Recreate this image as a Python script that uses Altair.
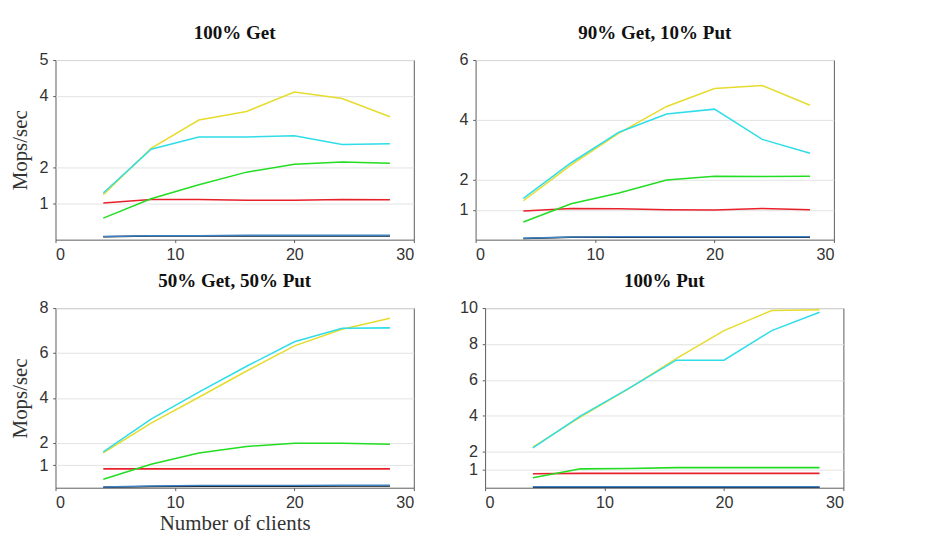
import altair as alt
import pandas as pd

clients = [4, 8, 12, 16, 20, 24, 28]
systems = ["Redis", "Memcached", "Herd", "HydraDB", "Pilaf", "FaRM"]
titles = ["100% Get", "90% Get, 10% Put", "50% Get, 50% Put", "100% Put"]

# 100% Get
g100_redis = [0.08, 0.10, 0.10, 0.10, 0.10, 0.10, 0.10]
g100_memcached = [0.09, 0.11, 0.11, 0.12, 0.12, 0.12, 0.12]
g100_herd = [1.02, 1.12, 1.12, 1.10, 1.10, 1.12, 1.11]
g100_hydradb = [1.25, 2.54, 3.33, 3.57, 4.11, 3.93, 3.42]
g100_pilaf = [0.60, 1.14, 1.53, 1.88, 2.10, 2.16, 2.13]
g100_farm = [1.30, 2.52, 2.86, 2.86, 2.89, 2.65, 2.67]

# 90% Get, 10% Put
g90_redis = [0.04, 0.08, 0.08, 0.08, 0.08, 0.08, 0.08]
g90_memcached = [0.05, 0.09, 0.10, 0.10, 0.10, 0.10, 0.10]
g90_herd = [0.96, 1.04, 1.03, 1.00, 0.99, 1.04, 1.00]
g90_hydradb = [1.30, 2.50, 3.56, 4.45, 5.05, 5.15, 4.49]
g90_pilaf = [0.59, 1.20, 1.56, 1.99, 2.12, 2.11, 2.12]
g90_farm = [1.38, 2.57, 3.59, 4.20, 4.36, 3.35, 2.89]

# 50% Get, 50% Put
g50_redis = [0.02, 0.06, 0.07, 0.07, 0.07, 0.08, 0.08]
g50_memcached = [0.03, 0.08, 0.10, 0.10, 0.10, 0.11, 0.11]
g50_herd = [0.84, 0.84, 0.84, 0.84, 0.84, 0.84, 0.84]
g50_hydradb = [1.55, 2.88, 4.03, 5.20, 6.32, 7.06, 7.55]
g50_pilaf = [0.38, 1.05, 1.55, 1.84, 1.98, 1.98, 1.94]
g50_farm = [1.60, 3.06, 4.26, 5.41, 6.50, 7.10, 7.12]

# 100% Put
p100_redis = [0.03, 0.03, 0.03, 0.03, 0.03, 0.03, 0.03]
p100_memcached = [0.05, 0.05, 0.05, 0.05, 0.05, 0.05, 0.05]
p100_herd = [0.78, 0.80, 0.80, 0.80, 0.80, 0.80, 0.80]
p100_hydradb = [2.26, 3.95, 5.50, 7.19, 8.75, 9.87, 9.91]
p100_pilaf = [0.55, 1.05, 1.07, 1.12, 1.12, 1.12, 1.12]
p100_farm = [2.22, 4.00, 5.52, 7.10, 7.10, 8.75, 9.77]

y_ticks = [[1, 2, 4, 5], [1, 2, 4, 6], [1, 2, 4, 6, 8], [1, 2, 4, 6, 8, 10]]
y_max = [5, 6, 8, 10]

panels = [
    [g100_redis, g100_memcached, g100_herd, g100_hydradb, g100_pilaf, g100_farm],
    [g90_redis, g90_memcached, g90_herd, g90_hydradb, g90_pilaf, g90_farm],
    [g50_redis, g50_memcached, g50_herd, g50_hydradb, g50_pilaf, g50_farm],
    [p100_redis, p100_memcached, p100_herd, p100_hydradb, p100_pilaf, p100_farm],
]

colors = ["#111111", "#3f82c4", "#e8202a", "#e6dc2e", "#22dd22", "#2fdde8"]

W, H = 377, 189
SERIF = "Liberation Serif"
SANS = "Liberation Sans"

color_scale = alt.Scale(domain=systems, range=colors)
legend = alt.Legend(
    orient="none", legendX=359, legendY=502, direction="horizontal",
    title=None, symbolType="stroke", symbolSize=1024, symbolStrokeWidth=2,
    labelFont=SERIF, labelFontSize=14, labelColor="#111111",
    labelOffset=8, columnPadding=8, padding=0,
)


def panel(i):
    rows = []
    for name, vals in zip(systems, panels[i]):
        for c, v in zip(clients, vals):
            rows.append({"clients": c, "mops": v, "system": name})
    df = pd.DataFrame(rows)
    return alt.Chart(df).mark_line(strokeWidth=1.6).encode(
        x=alt.X("clients:Q",
                scale=alt.Scale(domain=[0, 30], nice=False, zero=False),
                axis=alt.Axis(values=[0, 10, 20, 30], grid=False,
                              title="Number of clients" if i == 2 else None)),
        y=alt.Y("mops:Q",
                scale=alt.Scale(domain=[0, y_max[i]], nice=False),
                axis=alt.Axis(values=y_ticks[i], grid=True,
                              title="Mops/sec" if i % 2 == 0 else None)),
        color=alt.Color("system:N", scale=color_scale, legend=legend),
    ).properties(width=W, height=H, title=titles[i])


top = alt.hconcat(panel(0), panel(1), spacing=46)
bottom = alt.hconcat(panel(2), panel(3), spacing=46)
chart = alt.vconcat(top, bottom, spacing=8).properties(
    padding={"left": 1, "top": 1, "right": 5, "bottom": 0},
).configure_view(
    stroke="#555555", strokeWidth=1,
).configure_axis(
    labelFont=SANS, labelFontSize=17, labelColor="#333333",
    titleFont=SERIF, titleFontSize=22, titleFontWeight="normal", titleColor="#333333",
    gridColor="#e2e2e2", gridWidth=1, domain=False,
    tickColor="#555555", tickSize=3, labelPadding=5,
).configure_axisX(
    titlePadding=3,
).configure_axisY(
    titlePadding=8,
).configure_title(
    font=SERIF, fontSize=20, fontWeight="bold", color="#111111", offset=9,
    anchor="middle", frame="group",
)

chart.save("out.html", embed_options={"renderer": "svg", "actions": False})
